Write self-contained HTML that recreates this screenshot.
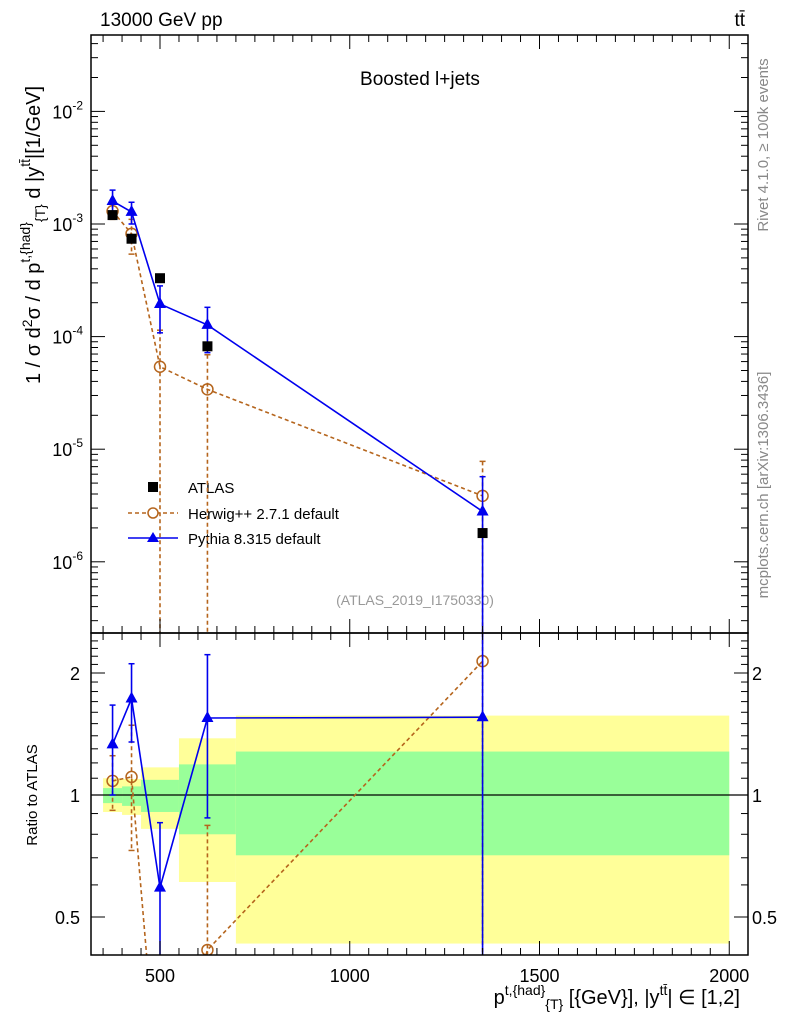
<!DOCTYPE html>
<html><head><meta charset="utf-8"><style>
html,body{margin:0;background:#fff;overflow:hidden;width:786px;height:1024px}
svg{display:block;font-family:"Liberation Sans",sans-serif}
</style></head><body>
<svg id="c" width="786" height="1024" viewBox="0 0 786 1024">
<text x="100" y="26" font-size="19">13000 GeV pp</text>
<text x="745" y="26" font-size="19" text-anchor="end">tt̄</text>
<text x="420" y="85" font-size="19" text-anchor="middle">Boosted l+jets</text>
<text x="415" y="605" font-size="14" fill="#999" text-anchor="middle">(ATLAS_2019_I1750330)</text>
<text transform="translate(768,145) rotate(-90)" font-size="15" fill="#888" text-anchor="middle">Rivet 4.1.0, ≥ 100k events</text>
<text transform="translate(768,485) rotate(-90)" font-size="15" fill="#888" text-anchor="middle">mcplots.cern.ch [arXiv:1306.3436]</text>
<text transform="translate(40,235) rotate(-90)" font-size="20" text-anchor="middle">1 / σ d<tspan font-size="14" dy="-8">2</tspan><tspan dy="8">σ / d p</tspan><tspan font-size="14" dy="-10">t,{had}</tspan><tspan font-size="14" dy="15">{T}</tspan><tspan dy="-5"> d  |y</tspan><tspan font-size="14" dy="-10">tt̄</tspan><tspan dy="10">|[1/GeV]</tspan></text>
<text transform="translate(37,795) rotate(-90)" font-size="15" text-anchor="middle">Ratio to ATLAS</text>
<text x="740" y="1004" font-size="20" text-anchor="end">p<tspan font-size="14" dy="-9">t,{had}</tspan><tspan font-size="14" dy="14">{T}</tspan><tspan dy="-5"> [{GeV}], |y</tspan><tspan font-size="14" dy="-9">tt̄</tspan><tspan dy="9">| ∈ [1,2]</tspan></text>
<g id="legend">
<rect x="148" y="482" width="10" height="10" fill="#000"/>
<text x="188" y="493" font-size="15">ATLAS</text>
<line x1="128" y1="513" x2="178" y2="513" stroke="#b5651d" stroke-dasharray="4,3" stroke-width="1.5"/>
<circle cx="153" cy="513" r="5" fill="#fff" stroke="#b5651d" stroke-width="1.5"/>
<text x="188" y="519" font-size="15">Herwig++ 2.7.1 default</text>
<line x1="128" y1="538" x2="178" y2="538" stroke="#0000ee" stroke-width="1.5"/>
<path d="M153,532 L159,542 L147,542Z" fill="#0000ee"/>
<text x="188" y="544" font-size="15">Pythia 8.315 default</text>
</g>
</svg>
<script>
const binEdges=[350,400,450,550,700,2000];
const xCenters=[375,425,500,625,1350];
const atlasVals=[1.2e-3,7.4e-4,3.3e-4,8.2e-5,1.8e-6];
const herwigVals=[1.3e-3,8.2e-4,5.4e-5,3.4e-5,3.85e-6];
const herwigErr=[0.2e-3,0.28e-3,6e-5,3.5e-5,3.95e-6];
const pythiaVals=[1.6e-3,1.28e-3,1.95e-4,1.27e-4,2.8e-6];
const pythiaErr=[0.4e-3,0.28e-3,0.87e-4,0.55e-4,2.9e-6];
const bandTotUp=[1.10,1.095,1.17,1.38,1.57];
const bandTotDn=[0.908,0.893,0.825,0.61,0.43];
const bandStatUp=[1.04,1.05,1.09,1.19,1.28];
const bandStatDn=[0.955,0.94,0.908,0.80,0.71];
const xTicks=[500,1000,1500,2000];
const yDecades=[-2,-3,-4,-5,-6];
const ratioTicks=[0.5,1,2];
const ratioTickLabels=["0.5","1","2"];

const L=91,R=748,T=35,M=633,B=955;
const X=v=>160+(v-500)*0.3795;
const Y=v=>224-(Math.log10(v)+3)*112.6;
const RY=v=>795-Math.log2(v)*122;
const svg=document.getElementById('c');
const NS='http://www.w3.org/2000/svg';
function mk(tag,attrs,parent){const e=document.createElementNS(NS,tag);for(const k in attrs)e.setAttribute(k,attrs[k]);(parent||svg).appendChild(e);return e;}
const clipY=(y,top,bot)=>Math.max(top,Math.min(bot,y));

for(let i=0;i<5;i++){
 const r=mk('rect',{x:X(binEdges[i]),width:X(binEdges[i+1])-X(binEdges[i]),y:RY(bandTotUp[i]),height:RY(bandTotDn[i])-RY(bandTotUp[i]),fill:'#ffff99'});
 
 
 const g=mk('rect',{x:X(binEdges[i]),width:X(binEdges[i+1])-X(binEdges[i]),y:RY(bandStatUp[i]),height:RY(bandStatDn[i])-RY(bandStatUp[i]),fill:'#99ff99'});
 
 
}
const one=mk('line',{x1:L,x2:R,y1:RY(1),y2:RY(1),stroke:'#000','stroke-width':1.2});



function series(vals,errs,color,dash,marker,name,ratio){
 const top=ratio?M:T,bot=ratio?B:M;
 const yf=ratio?(v,i)=>RY(v/atlasVals[i]):(v)=>Y(v);
 const g=mk('g',{});
 
 
 const cp=mk('clipPath',{id:'cp'+name+ratio},g);mk('rect',{x:L,y:top,width:R-L,height:bot-top},cp);
 const inner=mk('g',{'clip-path':'url(#cp'+name+ratio+')'},g);
 // clamp polyline vertices but keep slope: compute intersection with bottom edge for out-of-range points
 const raw=vals.map((v,i)=>[X(xCenters[i]),yf(v,i)]);
 let pts=[];
 for(let i=0;i<raw.length;i++){
  const [x,y]=raw[i];
  if(y<=bot+5){pts.push([x,y]);continue;}
  if(i>0&&raw[i-1][1]<=bot){const [px,py]=raw[i-1];pts.push([px+(x-px)*(bot+5-py)/(y-py),bot+5]);}
  if(i<raw.length-1&&raw[i+1][1]<=bot){const [nx,ny]=raw[i+1];pts.push([x+(nx-x)*(y-bot-5)/(y-ny),bot+5]);}
 }
 const pl=mk('polyline',{points:pts.map(p=>p.join(',')).join(' '),fill:'none',stroke:color,'stroke-width':1.6,'stroke-dasharray':dash},inner);
 
 
 vals.forEach((v,i)=>{
  const x=X(xCenters[i]);
  const hi=v+errs[i],lo=v-errs[i];
  const yh=clipY(yf(hi,i),top,bot);
  const yl=lo>0?clipY(yf(lo,i),top,bot):bot;
  const y=yf(v,i);
  if(yh<bot){
   const eb=mk('line',{x1:x,x2:x,y1:yh,y2:yl,stroke:color,'stroke-width':1.6,'stroke-dasharray':dash},inner);
   
   
  }
  [yh,yl].forEach(yy=>{if(yy>top&&yy<bot)mk('line',{x1:x-3,x2:x+3,y1:yy,y2:yy,stroke:color,'stroke-width':1.5},inner);});
  if(y<top-10||y>bot+10)return;
  let m;
  if(marker==='circle')m=mk('circle',{cx:x,cy:y,r:5.5,fill:'none',stroke:color,'stroke-width':1.5},inner);
  else m=mk('path',{d:`M${x},${y-7} L${x+6},${y+4} L${x-6},${y+4}Z`,fill:color},inner);
  
  
 });
}
series(herwigVals,herwigErr,'#b5651d','4,3','circle','herwig',false);
series(pythiaVals,pythiaErr,'#0000ee','','tri','pythia',false);
atlasVals.forEach((v,i)=>{
 const s=mk('rect',{x:X(xCenters[i])-5,y:Y(v)-5,width:10,height:10,fill:'#000'});
 
 
});
series(herwigVals,herwigErr,'#b5651d','4,3','circle','herwig',true);
series(pythiaVals,pythiaErr,'#0000ee','','tri','pythia',true);

[[T,M],[M,B]].forEach(([a,b],k)=>{
 const f=mk('rect',{x:L,y:a,width:R-L,height:b-a,fill:'none',stroke:'#000','stroke-width':1.5});
 
 
});
for(let v=350;v<=2050;v+=50){
 const x=X(v);if(x<L||x>R)continue;
 const big=v%500===0;const len=big?14:7;
 [[M,-1],[T,1],[B,-1],[M,1]].forEach(([y,d])=>mk('line',{x1:x,x2:x,y1:y,y2:y+d*len,stroke:'#000'}));
}
xTicks.forEach(v=>{
 const t=mk('text',{x:X(v),y:982,'font-size':18,'text-anchor':'middle'});t.textContent=v;
 
 
});
for(let d=-7;d<=-1;d++)for(let k=1;k<10;k++){
 const y=Y(k*Math.pow(10,d));if(y<T||y>M)continue;
 const len=k===1?14:7;
 mk('line',{x1:L,x2:L+len,y1:y,y2:y,stroke:'#000'});
 mk('line',{x1:R,x2:R-len,y1:y,y2:y,stroke:'#000'});
}
yDecades.forEach(d=>{
 const t=mk('text',{x:83,y:Y(Math.pow(10,d))+7,'font-size':18,'text-anchor':'end'});
 t.innerHTML='10<tspan font-size="12" dy="-9">'+d+'</tspan>';
 
 
});
[0.4,0.5,0.6,0.7,0.8,0.9,1,1.1,1.2,1.3,1.4,1.5,1.6,1.7,1.8,1.9,2,2.1,2.2,2.3,2.4].forEach(v=>{
 const y=RY(v);if(y<M||y>B)return;const len=[0.5,1,2].includes(v)?14:7;
 mk('line',{x1:L,x2:L+len,y1:y,y2:y,stroke:'#000'});
 mk('line',{x1:R,x2:R-len,y1:y,y2:y,stroke:'#000'});
});
ratioTicks.forEach((v,i)=>{
 [[80,'end'],[752,'start']].forEach(([x,a])=>{
  const t=mk('text',{x:x,y:RY(v)+7,'font-size':18,'text-anchor':a});t.textContent=ratioTickLabels[i];
  
  
 });
});
</script>
</body></html>
